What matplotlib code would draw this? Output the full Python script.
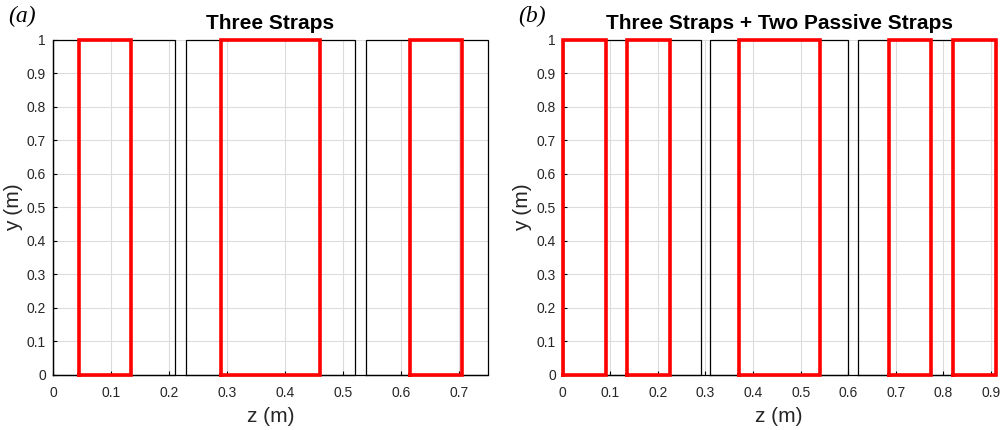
import numpy as np
import matplotlib.pyplot as plt

plt.rcParams['font.family'] = ['Liberation Sans', 'DejaVu Sans']

# plate extents (z ranges) and strap extents for each layout
plates_a = [(0.0, 0.21), (0.23, 0.52), (0.54, 0.75)]
straps_a = [(0.045, 0.135), (0.29, 0.46), (0.615, 0.705)]
plates_b = [(0.0, 0.29), (0.31, 0.60), (0.62, 0.91)]
straps_b = [(0.0, 0.09), (0.135, 0.225), (0.37, 0.54), (0.685, 0.775), (0.82, 0.91)]

y_lo, y_hi = 0.0, 1.0
xticks_a = [0, 0.1, 0.2, 0.3, 0.4, 0.5, 0.6, 0.7]
xticks_b = [0, 0.1, 0.2, 0.3, 0.4, 0.5, 0.6, 0.7, 0.8, 0.9]
yticks = [0, 0.1, 0.2, 0.3, 0.4, 0.5, 0.6, 0.7, 0.8, 0.9, 1]


def rect(ax, z0, z1, **kw):
    ax.plot([z0, z1, z1, z0, z0], [y_lo, y_lo, y_hi, y_hi, y_lo],
            clip_on=False, solid_joinstyle='miter', **kw)


def panel(ax, plates, straps, xticks, title, tag):
    for z0, z1 in plates:
        rect(ax, z0, z1, color='black', lw=0.9, zorder=3)
    for z0, z1 in straps:
        rect(ax, z0, z1, color='#ff0000', lw=2.6, zorder=4)
    ax.set_xlim(plates[0][0], plates[-1][1])
    ax.set_ylim(y_lo, y_hi)
    ax.set_xticks(xticks)
    ax.set_yticks(yticks)
    ax.set_xticklabels([f'{t:g}' for t in xticks])
    ax.set_yticklabels([f'{t:g}' for t in yticks])
    ax.tick_params(direction='in', length=3, width=0.8, labelsize=10,
                   labelcolor='#262626', pad=5)
    ax.tick_params(axis='x', pad=8)
    ax.grid(True, color='#dcdcdc', lw=0.8)
    ax.set_axisbelow(True)
    for s in ('top', 'right'):
        ax.spines[s].set_visible(False)
    for s in ('left', 'bottom'):
        ax.spines[s].set_linewidth(0.9)
    ax.set_xlabel('z (m)', fontsize=15, color='#262626', labelpad=5)
    ax.set_ylabel('y (m)', fontsize=15, color='#262626', labelpad=0)
    ax.yaxis.set_label_coords(-0.07, 0.5)
    ax.set_title(title, fontsize=15, fontweight='bold', pad=8)
    ax.text(-0.104, 1.07, tag, transform=ax.transAxes, fontsize=17,
            family='Liberation Serif', style='italic', ha='left', va='center')


fig = plt.figure(figsize=(10.07, 4.30), dpi=100)
ax_a = fig.add_axes([0.0526, 0.128, 0.432, 0.779])
ax_b = fig.add_axes([0.5588, 0.128, 0.430, 0.779])

panel(ax_a, plates_a, straps_a, xticks_a, 'Three Straps', '(a)')
panel(ax_b, plates_b, straps_b, xticks_b, 'Three Straps + Two Passive Straps', '(b)')

fig.savefig('out.png', dpi=100)
